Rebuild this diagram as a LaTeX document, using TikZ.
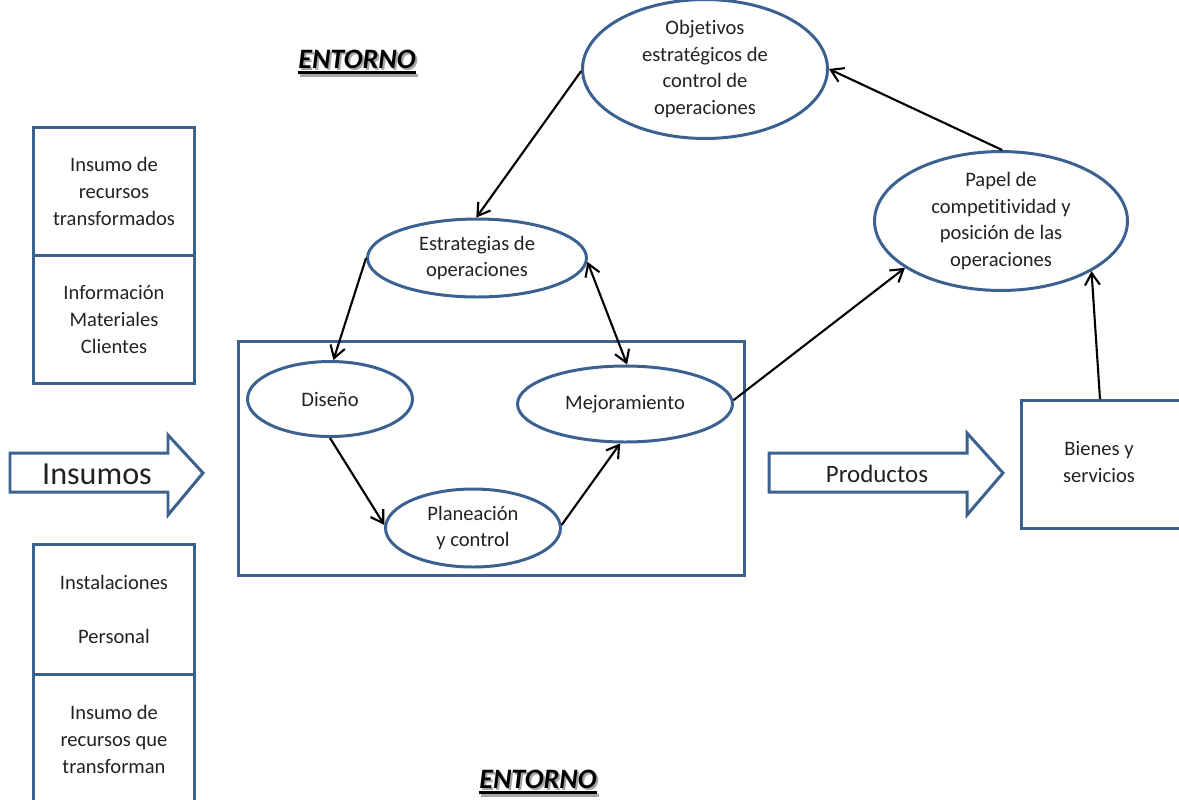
\documentclass[tikz,border=0pt]{standalone}
\usepackage{fontspec}
\setmainfont{Carlito}[Ligatures={NoCommon,NoContextual}]
\usetikzlibrary{shapes.geometric,arrows.meta,calc}
\definecolor{edge}{HTML}{3A6190}
\definecolor{ink}{HTML}{222222}
\newcommand\bodysize{\fontsize{11.7}{15.3}\selectfont}
\newcommand\envsize{\fontsize{16}{18}\selectfont\bfseries\itshape}

\begin{document}
\begin{tikzpicture}[x=0.02cm,y=-0.02cm,
  >={Straight Barb[length=2.4mm,width=3mm,line width=1.2pt]},
  oval/.style={ellipse, draw=edge, line width=1.7pt, inner sep=0pt, align=center,
               font=\bodysize, text=ink},
  panel/.style={rectangle, draw=edge, line width=1.7pt, inner sep=0pt, align=center,
                font=\bodysize, text=ink, anchor=north west, minimum width=3.22cm},
  label/.style={inner sep=0pt, align=center, font=\bodysize, text=ink},
  link/.style={line width=1.2pt, draw=black, ->},
  biglink/.style={draw=edge, line width=1.7pt, fill=white, line join=miter},
  envtext/.style={inner sep=0pt, anchor=base, font=\envsize},
]
\useasboundingbox (0,0) rectangle (1179,799);
\clip (0,0) rectangle (1179,799);

% Environment headings with their soft shadow and thick underline
\foreach \nm/\cx/\by in {envtop/357/68, envbot/538/788}{
  \node[envtext, text=black!35] at (\cx+2,\by+2) {ENTORNO};
  \node[envtext, text=black] (\nm) at (\cx,\by) {ENTORNO};
  \draw[black!35, line width=1.7pt] ([xshift=1pt,yshift=-4pt]\nm.base west) -- ([xshift=1pt,yshift=-4pt]\nm.base east);
  \draw[black, line width=1.7pt] ([yshift=-2.8pt]\nm.base west) -- ([yshift=-2.8pt]\nm.base east);
}

% Input resource panels
\node[panel, minimum height=2.56cm] (tr1) at (32,126) {Insumo de\\recursos\\transformados};
\node[panel, minimum height=2.56cm] (tr2) at (32,254) {Información\\Materiales\\Clientes};
\node[panel, minimum height=2.60cm] (tf1) at (32,543) {Instalaciones\\[15.3pt]Personal};
\node[panel, minimum height=2.60cm] (tf2) at (32,673) {Insumo de\\recursos que\\transforman};

% Wide block arrows
\path[biglink] (10,453) -- (168,453) -- (168,435) -- (203,473) -- (168,515) -- (168,492) -- (10,492) -- cycle;
\node[inner sep=0pt, font=\fontsize{18.3}{20}\selectfont, text=ink] (ins) at (97,474) {Insumos};
\path[biglink] (769,453) -- (967,453) -- (967,433) -- (1003,473) -- (967,515) -- (967,492) -- (769,492) -- cycle;
\node[inner sep=0pt, font=\fontsize{14.2}{16}\selectfont, text=ink] (prod) at (877,474) {Productos};

% Transformation process
\node[rectangle, draw=edge, line width=1.7pt, minimum width=10.14cm, minimum height=4.7cm, inner sep=0pt] (proc) at (491.5,458.5) {};
\node[oval, minimum width=3.3cm, minimum height=1.5cm] (dis) at (330,399) {Diseño};
\node[oval, minimum width=4.3cm, minimum height=1.52cm] (mej) at (625,404) {Mejoramiento};
\node[oval, minimum width=3.5cm, minimum height=1.56cm] (plan) at (473,528) {Planeación\\y control};

% Strategy level
\node[oval, minimum width=4.38cm, minimum height=1.56cm] (est) at (477,258) {Estrategias de\\operaciones};
\node[oval, minimum width=4.9cm, minimum height=2.36cm] (obj) at (705,69) {Objetivos\\estratégicos de\\control de\\operaciones};
\node[oval, minimum width=5.06cm, minimum height=2.64cm] (pap) at (1001,221) {Papel de\\competitividad y\\posición de las\\operaciones};

% Outputs
\node[rectangle, draw=edge, line width=1.7pt, anchor=north west, minimum width=3.4cm, minimum height=2.56cm, inner sep=0pt] (bien) at (1020,399) {};
\node[label] (bientxt) at (1099,462) {Bienes y\\servicios};

% Connectors
\draw[link] (obj.181) -- (est.91);
\draw[link] (est.180) -- (dis.85);
\draw[line width=1.2pt, <->] (est.358) -- (mej.87);
\draw[link] (dis.270) -- (plan.178);
\draw[link] (plan.2) -- (mej.263);
\draw[link] (mej.2) -- (pap.206);
\draw[link] ([xshift=1.6cm]bien.north west) -- (pap.331);
\draw[link] (pap.89) -- (obj.0);
\end{tikzpicture}
\end{document}
